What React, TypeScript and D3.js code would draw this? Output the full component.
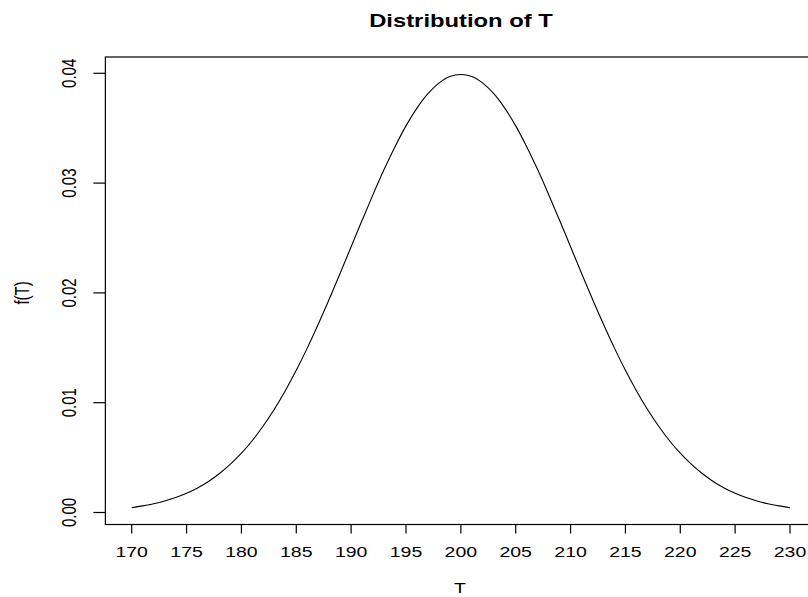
import React from "react";
import * as d3 from "d3";

// T values (x) and density f(T)
const tValues: number[] = [
  170, 171, 172, 173, 174, 175, 176, 177, 178, 179,
  180, 181, 182, 183, 184, 185, 186, 187, 188, 189,
  190, 191, 192, 193, 194, 195, 196, 197, 198, 199,
  200, 201, 202, 203, 204, 205, 206, 207, 208, 209,
  210, 211, 212, 213, 214, 215, 216, 217, 218, 219,
  220, 221, 222, 223, 224, 225, 226, 227, 228, 229, 230,
];
const fValues: number[] = [
  0.00044, 0.0006, 0.00079, 0.00104, 0.00136, 0.00175, 0.00224, 0.00283, 0.00355, 0.0044,
  0.0054, 0.00656, 0.0079, 0.0094, 0.01109, 0.01295, 0.01497, 0.01714, 0.01942, 0.02179,
  0.0242, 0.02661, 0.02897, 0.03123, 0.03332, 0.03521, 0.03683, 0.03814, 0.0391, 0.0397,
  0.03989, 0.0397, 0.0391, 0.03814, 0.03683, 0.03521, 0.03332, 0.03123, 0.02897, 0.02661,
  0.0242, 0.02179, 0.01942, 0.01714, 0.01497, 0.01295, 0.01109, 0.0094, 0.0079, 0.00656,
  0.0054, 0.0044, 0.00355, 0.00283, 0.00224, 0.00175, 0.00136, 0.00104, 0.00079, 0.0006, 0.00044,
];
const xTicks: number[] = [170, 175, 180, 185, 190, 195, 200, 205, 210, 215, 220, 225, 230];
const yTicks: number[] = [0, 0.01, 0.02, 0.03, 0.04];
const title = "Distribution of T";
const xLabel = "T";
const yLabel = "f(T)";

export default function App() {
  const W = 808, H = 597;
  const x = d3.scaleLinear().domain([170, 230]).range([131.7, 790]);
  const y = d3.scaleLinear().domain([0, 0.04]).range([512.5, 73.3]);
  const [x0, x1] = [x(167.6), x(232.4)];
  const yTop = 57, yBot = 524.5;
  const sx = 1.3;
  const font = "'Liberation Sans', Arial, Helvetica, sans-serif";
  const pts = tValues.map((t, i) => [t, fValues[i]] as [number, number]);
  const line = d3
    .line<[number, number]>()
    .x((d) => x(d[0]))
    .y((d) => y(d[1]))
    .curve(d3.curveCatmullRom);

  return (
    <svg
      width={W}
      height={H}
      style={{ position: "absolute", left: 0, top: 0, background: "#fff" }}
      fontFamily={font}
    >
      <rect x={0} y={0} width={W} height={H} fill="#fff" />
      <rect x={x0} y={yTop} width={x1 - x0} height={yBot - yTop} fill="none" stroke="#000" strokeWidth={1.2} />
      <path d={line(pts) || ""} fill="none" stroke="#000" strokeWidth={1.1} />
      {/* x axis */}
      <line x1={x(170)} x2={x(230)} y1={yBot} y2={yBot} stroke="#000" strokeWidth={1.2} />
      {xTicks.map((t) => (
        <g key={t}>
          <line x1={x(t)} x2={x(t)} y1={yBot} y2={yBot + 9} stroke="#000" strokeWidth={1.2} />
          <text
            transform={`translate(${x(t)},557) scale(${sx},1)`}
            textAnchor="middle"
            fontSize={15}
          >
            {t}
          </text>
        </g>
      ))}
      {/* y axis */}
      {yTicks.map((v) => (
        <g key={v}>
          <line x1={x0 - 12} x2={x0} y1={y(v)} y2={y(v)} stroke="#000" strokeWidth={1.2} />
          <text
            transform={`translate(76,${y(v)}) scale(${sx},1) rotate(-90)`}
            textAnchor="middle"
            fontSize={15}
          >
            {v.toFixed(2)}
          </text>
        </g>
      ))}
      <text
        transform={`translate(461,27) scale(${sx},1)`}
        textAnchor="middle"
        fontSize={18.3}
        fontWeight="bold"
      >
        {title}
      </text>
      <text transform={`translate(460,593) scale(${sx},1)`} textAnchor="middle" fontSize={15}>
        {xLabel}
      </text>
      <text
        transform={`translate(29,${y(0.02)}) scale(${sx},1) rotate(-90)`}
        textAnchor="middle"
        fontSize={15}
      >
        {yLabel}
      </text>
    </svg>
  );
}
